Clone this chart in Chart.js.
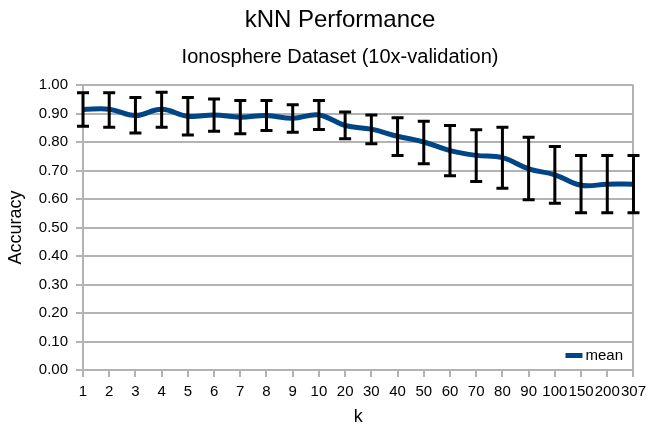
<!DOCTYPE html>
<html>
<head>
<meta charset="utf-8">
<script src="https://cdn.jsdelivr.net/npm/chart.js@4.4.1/dist/chart.umd.min.js"></script>
<style>
    html, body { margin: 0; padding: 0; background: #fff; }
</style>
</head>
<body>
<canvas id="knnChart" width="652" height="432"></canvas>
<script>
const kLabels = ["1", "2", "3", "4", "5", "6", "7", "8", "9", "10", "20", "30", "40", "50", "60", "70", "80", "90", "100", "150", "200", "307"];
const meanAcc  = [0.914, 0.915, 0.893, 0.915, 0.890, 0.895, 0.887, 0.893, 0.883, 0.895, 0.858, 0.845, 0.820, 0.800, 0.770, 0.753, 0.745, 0.706, 0.685, 0.648, 0.652, 0.652];
const upperAcc = [0.973, 0.973, 0.956, 0.975, 0.956, 0.951, 0.946, 0.946, 0.931, 0.946, 0.905, 0.895, 0.885, 0.873, 0.858, 0.843, 0.852, 0.817, 0.784, 0.753, 0.753, 0.753];
const lowerAcc = [0.855, 0.852, 0.832, 0.852, 0.825, 0.838, 0.829, 0.840, 0.834, 0.844, 0.811, 0.794, 0.753, 0.724, 0.682, 0.661, 0.638, 0.597, 0.585, 0.552, 0.552, 0.552];

const chartTitle = "kNN Performance";
const chartSubtitle = "Ionosphere Dataset (10x-validation)";

const FONT = "'Liberation Sans', Arial, sans-serif";
const GRID = "#b3b3b3";

// ===== ERROR BARS =====
const errorBars = {
    id: "errorBars",
    afterDatasetsDraw(chart) {
        const { ctx, scales: { x, y } } = chart;
        ctx.save();
        ctx.strokeStyle = "#000";
        ctx.lineWidth = 3;
        kLabels.forEach((k, i) => {
            const px = x.getPixelForValue(i);
            const top = y.getPixelForValue(upperAcc[i]);
            const bot = y.getPixelForValue(lowerAcc[i]);
            ctx.beginPath();
            ctx.moveTo(px, top);
            ctx.lineTo(px, bot);
            ctx.moveTo(px - 6, top);
            ctx.lineTo(px + 6, top);
            ctx.moveTo(px - 6, bot);
            ctx.lineTo(px + 6, bot);
            ctx.stroke();
        });
        ctx.restore();
    }
};

// ===== TITLES + LEGEND =====
const decorations = {
    id: "decorations",
    afterDraw(chart) {
        const { ctx, chartArea } = chart;
        ctx.save();
        ctx.fillStyle = "#000";
        ctx.textAlign = "center";
        ctx.textBaseline = "alphabetic";
        ctx.font = "24px " + FONT;
        ctx.fillText(chartTitle, 340, 27);
        ctx.font = "20px " + FONT;
        ctx.fillText(chartSubtitle, 340, 63);

        // legend inside plot, bottom right
        const ds = chart.data.datasets[0];
        ctx.fillStyle = ds.borderColor;
        ctx.fillRect(chartArea.right - 68, chartArea.bottom - 17, 17, 5);
        ctx.fillStyle = "#000";
        ctx.textAlign = "left";
        ctx.textBaseline = "middle";
        ctx.font = "15px " + FONT;
        ctx.fillText(ds.label, chartArea.right - 48, chartArea.bottom - 14);
        ctx.restore();
    }
};

new Chart(document.getElementById("knnChart"), {
    type: "line",
    data: {
        labels: kLabels,
        datasets: [
            {
                label: "mean",
                data: meanAcc,
                borderColor: "#004586",
                borderWidth: 5,
                tension: 0.4,
                pointRadius: 0,
                fill: false
            }
        ]
    },
    options: {
        responsive: false,
        animation: false,
        devicePixelRatio: 1,
        layout: { padding: { top: 85, right: 13, left: 0, bottom: 0 } },
        plugins: {
            legend: { display: false },
            title: { display: false },
            tooltip: { enabled: false }
        },
        scales: {
            x: {
                offset: false,
                afterFit: s => { s.height = 62; },
                grid: {
                    drawOnChartArea: true,
                    color: c => (c.index === kLabels.length - 1 ? GRID : "transparent"),
                    tickColor: GRID,
                    tickLength: 7,
                    lineWidth: 2
                },
                border: { color: GRID, width: 2 },
                ticks: {
                    autoSkip: false,
                    maxRotation: 0,
                    color: "#000",
                    padding: 6,
                    font: { family: FONT, size: 15 }
                },
                title: {
                    display: true,
                    text: "k",
                    color: "#000",
                    padding: { top: 0, bottom: 4 },
                    font: { family: FONT, size: 18 }
                }
            },
            y: {
                min: 0,
                max: 1,
                afterFit: s => { s.width = 83; },
                grid: {
                    color: GRID,
                    tickColor: GRID,
                    tickLength: 7,
                    lineWidth: 2
                },
                border: { color: GRID, width: 2 },
                ticks: {
                    stepSize: 0.1,
                    color: "#000",
                    padding: 8,
                    font: { family: FONT, size: 15 },
                    callback: v => v.toFixed(2)
                },
                title: {
                    display: true,
                    text: "Accuracy",
                    color: "#000",
                    padding: { top: 5, bottom: 0 },
                    font: { family: FONT, size: 18 }
                }
            }
        }
    },
    plugins: [errorBars, decorations]
});
</script>
</body>
</html>
